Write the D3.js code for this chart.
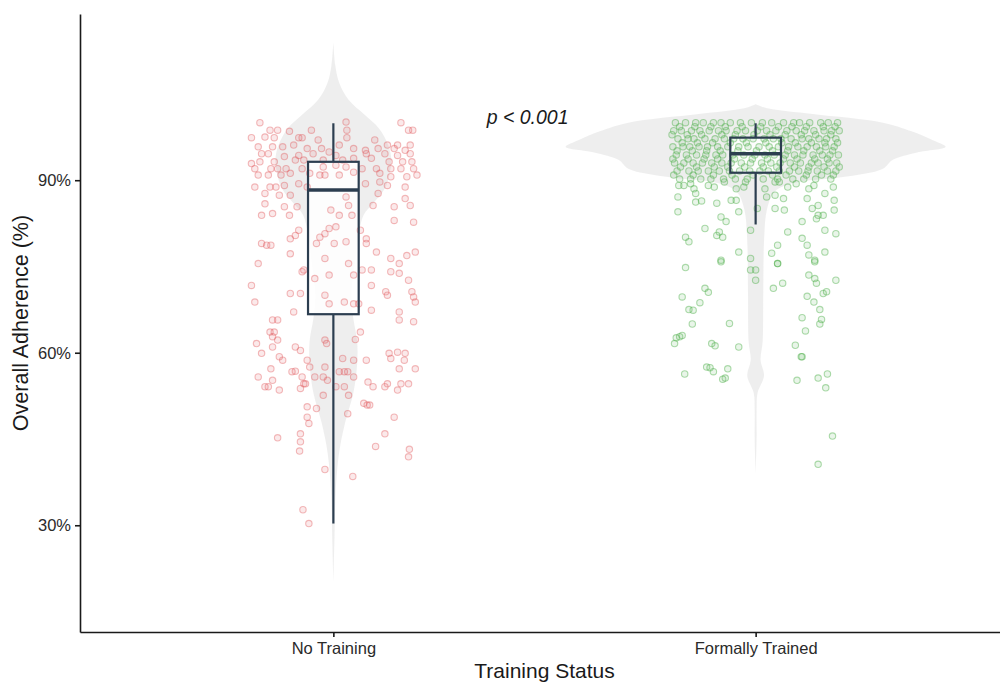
<!DOCTYPE html>
<meta charset="utf-8">
<style>
html, body {
    margin: 0;
    background: white;
}
svg {
    display: block;
    font-family: "Liberation Sans", Arial, sans-serif;
}
.axis path, .axis line {
    stroke: #1a1a1a;
    stroke-width: 1.6;
}
.axis text {
    font-size: 16.5px;
    fill: #2a2a2a;
}
</style>
<body>
<script src="https://d3js.org/d3.v7.min.js"></script>
<script>

var categories = ["No Training", "Formally Trained"];
var yTicks = [30, 60, 90];
var groupColors = ["#E0575A", "#4DAF4A"];

// box stats: [low whisker, q1, median, q3, high whisker]
var boxNoTraining = [30.3, 66.7, 88.3, 93.2, 99.9];
var boxTrained = [82.3, 91.3, 94.6, 97.4, 99.9];

// violin outline: [adherence %, relative density]
var violinNoTraining = [
  [114, 0], [110, 0.01], [107, 0.03], [104, 0.08], [101.5, 0.16], [99, 0.24],
  [96, 0.29], [93.5, 0.305], [91, 0.295], [88.5, 0.27], [86, 0.21], [84, 0.16],
  [80, 0.13], [76, 0.115], [70, 0.095], [66, 0.105], [62, 0.125], [58, 0.125],
  [53, 0.105], [48, 0.063], [44, 0.037], [40, 0.021], [35, 0.011], [28, 0.006], [20, 0]
];
var violinTrained = [
  [103.2, 0], [102.5, 0.06], [101.5, 0.3], [100, 0.67], [98.5, 0.82], [97, 0.93],
  [95.8, 1.0], [94.8, 0.85], [93.5, 0.72], [92, 0.67], [90.5, 0.45], [89.5, 0.2],
  [88, 0.1], [85, 0.06], [80, 0.045], [70, 0.04], [62, 0.037], [58.7, 0.026],
  [56, 0.044], [53, 0.01], [50, 0.005], [45, 0.005], [39, 0]
];

// jittered points: [jitter (-1..1 of jitter width), adherence %]
var pointsNoTraining = [
  [-0.87,100.0],[0.15,100.1],[0.80,100.0],[0.89,98.7],[0.94,98.7],[-0.75,98.7],[-0.66,98.7],[-0.52,98.5],[-0.26,98.7],[0.16,98.7],
  [-0.97,97.4],[-0.81,97.5],[-0.70,97.4],[-0.41,97.4],[-0.37,97.4],[-0.18,97.0],[0.16,97.4],[0.49,97.0],[0.64,96.1],[0.76,96.1],[0.91,96.1],
  [-0.89,95.8],[-0.72,95.8],[-0.60,95.8],[-0.47,96.1],[-0.31,95.5],[-0.14,95.5],[0.07,96.1],[0.24,95.5],[0.38,95.2],[0.53,95.5],[0.72,95.5],[0.85,95.2],
  [-0.85,94.6],[-0.77,94.6],[-0.58,94.1],[-0.41,94.3],[-0.24,94.6],[-0.05,94.9],[0.03,94.3],[0.39,94.6],[0.61,94.6],[0.76,94.3],[0.91,94.6],
  [-0.97,92.9],[-0.87,93.2],[-0.70,93.2],[-0.45,93.5],[-0.35,93.5],[-0.12,93.5],[0.11,93.5],[0.24,93.8],[0.45,93.8],[0.66,93.2],[0.82,93.2],[0.93,93.2],
  [-0.93,92.0],[-0.74,92.0],[-0.66,92.0],[-0.56,92.0],[-0.37,92.0],[-0.12,92.3],[0.03,92.6],[0.15,92.3],[0.34,92.0],[0.51,92.0],[0.68,92.0],[0.80,92.0],[0.95,92.0],
  [-0.89,90.9],[-0.77,90.9],[-0.62,90.9],[-0.51,91.2],[-0.28,91.2],[-0.16,90.9],[-0.10,90.9],[0.07,90.9],[0.24,91.4],[0.55,91.2],[0.68,90.6],[0.87,90.6],[0.99,90.9],
  [-0.93,88.8],[-0.75,88.8],[-0.68,88.8],[-0.58,89.1],[-0.41,89.4],[-0.31,88.8],[0.38,89.4],[0.55,89.7],[0.64,89.1],[0.85,88.8],
  [-0.81,87.7],[-0.64,87.4],[-0.51,87.4],[0.15,87.1],[0.53,87.7],[0.85,86.8],
  [-0.81,85.9],[-0.58,85.4],[-0.43,85.4],[-0.03,84.8],[0.18,85.6],[0.47,85.6],[0.72,85.4],[0.91,85.6],
  [-0.85,83.9],[-0.72,84.2],[-0.52,83.9],[0.07,83.9],[0.22,83.9],[0.72,83.0],[0.95,82.7],
  [-0.51,79.8],[-0.45,80.4],[-0.41,81.3],[-0.16,80.1],[-0.10,80.7],[-0.05,81.6],[0.03,81.9],[0.32,81.3],
  [-0.85,79.0],[-0.79,78.7],[-0.74,78.7],[-0.20,79.0],[0.01,79.0],[0.15,79.3],[0.39,79.8],[0.39,79.0],
  [-0.51,77.2],[0.51,77.5],[0.97,77.5],[0.87,76.9],[-0.89,75.5],[-0.10,76.4],[0.68,76.4],[0.78,75.5],[0.18,75.5],
  [-0.37,74.1],[-0.35,74.4],[-0.05,73.5],[0.24,73.5],[0.34,74.4],[0.45,74.4],[0.68,74.1],[0.78,73.8],
  [-0.22,72.9],[0.89,72.6],[-0.97,71.7],[0.45,71.7],[-0.51,70.3],[-0.39,70.3],[-0.10,70.0],[0.62,70.6],[0.64,70.0],[0.93,70.6],[0.95,69.7],
  [-0.93,68.8],[-0.05,68.5],[0.13,68.8],[0.24,68.5],[0.30,68.5],[0.97,68.8],[-0.47,67.1],[0.45,67.4],[0.78,67.1],
  [-0.72,65.7],[-0.66,65.7],[0.78,65.7],[0.95,65.4],[-0.75,63.6],[-0.70,63.6],[0.32,63.6],
  [-0.91,61.6],[-0.72,62.8],[-0.66,62.2],[-0.72,61.0],[-0.10,62.2],[-0.08,61.6],[0.26,62.3],
  [-0.85,59.9],[-0.45,61.0],[-0.39,60.4],[-0.64,59.3],[-0.60,58.7],[-0.31,58.7],[0.11,59.0],[0.24,58.7],[0.39,58.7],
  [0.66,59.9],[0.76,60.1],[0.85,59.9],[0.68,59.0],[0.84,58.7],
  [-0.74,57.2],[-0.28,57.5],[-0.10,57.5],[-0.49,56.7],[-0.45,56.8],[0.07,56.7],[0.13,56.7],[0.17,56.7],[0.78,57.2],[0.97,57.2],
  [-0.89,55.8],[-0.72,55.2],[-0.37,55.8],[-0.22,55.8],[-0.12,55.8],[-0.07,55.2],[0.24,55.8],
  [-0.35,54.6],[-0.33,54.6],[0.41,54.9],[0.47,54.1],[0.64,54.6],[0.61,54.1],[0.80,54.6],[0.89,54.6],
  [-0.81,54.1],[-0.77,54.1],[-0.64,53.5],[-0.39,53.8],[0.03,54.1],[0.13,54.1],[0.76,53.5],
  [-0.12,52.6],[0.18,52.6],[0.36,51.2],[0.40,50.9],[0.43,50.9],[-0.31,50.6],[-0.20,50.3],[0.17,49.4],
  [-0.31,48.8],[-0.29,47.7],[0.72,48.8],[-0.39,45.9],[-0.66,45.2],[0.61,45.9],[-0.39,44.5],
  [-0.40,42.9],[0.50,43.7],[0.90,43.2],[0.89,41.9],[-0.10,39.7],[0.23,38.5],[-0.36,32.7],[-0.29,30.3]
];

// dense upper band of the trained group, row by row
var trainedRows = [
  {value: 100.0, jitter: [-0.95,-0.83,-0.71,-0.62,-0.50,-0.41,-0.30,-0.18,-0.05,0.08,0.19,0.33,0.45,0.52,0.64,0.77,0.86,0.97]},
  {value: 99.3, jitter: [-0.90,-0.72,-0.53,-0.36,-0.16,0.06,0.27,0.43,0.60,0.80,0.94]},
  {value: 98.6, jitter: [-0.97,-0.88,-0.76,-0.66,-0.55,-0.44,-0.35,-0.22,-0.12,0.02,0.13,0.24,0.37,0.48,0.58,0.69,0.81,0.90,0.99]},
  {value: 97.9, jitter: [-0.99,-0.81,-0.64,-0.40,-0.24,-0.02,0.17,0.35,0.54,0.71,0.89]},
  {value: 97.2, jitter: [-0.92,-0.80,-0.73,-0.60,-0.48,-0.37,-0.26,-0.15,-0.03,0.10,0.21,0.30,0.42,0.55,0.63,0.75,0.84,0.95]},
  {value: 96.5, jitter: [-0.87,-0.69,-0.51,-0.30,-0.11,0.12,0.31,0.47,0.66,0.82,0.97]},
  {value: 95.8, jitter: [-0.98,-0.86,-0.78,-0.67,-0.57,-0.45,-0.33,-0.20,-0.09,0.04,0.16,0.27,0.39,0.50,0.61,0.72,0.83,0.93]},
  {value: 95.1, jitter: [-0.93,-0.75,-0.58,-0.42,-0.21,0.01,0.20,0.38,0.57,0.76,0.91]},
  {value: 94.4, jitter: [-0.94,-0.82,-0.70,-0.59,-0.47,-0.39,-0.27,-0.14,-0.01,0.11,0.22,0.35,0.46,0.56,0.68,0.79,0.88,0.98]},
  {value: 93.7, jitter: [-0.98,-0.80,-0.61,-0.45,-0.25,-0.04,0.14,0.33,0.49,0.70,0.85]},
  {value: 93.0, jitter: [-0.96,-0.85,-0.74,-0.63,-0.52,-0.40,-0.29,-0.17,-0.06,0.07,0.18,0.29,0.41,0.53,0.66,0.74,0.87,0.96]},
  {value: 92.3, jitter: [-0.89,-0.70,-0.49,-0.33,-0.13,0.09,0.25,0.46,0.63,0.81,0.99]},
  {value: 91.6, jitter: [-0.93,-0.79,-0.68,-0.56,-0.43,-0.31,-0.19,-0.07,0.05,0.15,0.28,0.40,0.51,0.62,0.73,0.85,0.95]},
  {value: 90.9, jitter: [-0.97,-0.74,-0.50,-0.28,-0.03,0.20,0.36,0.60,0.78,0.92]},
  {value: 90.2, jitter: [-0.90,-0.77,-0.65,-0.53,-0.38,-0.24,-0.10,0.09,0.26,0.44,0.57,0.71,0.89]}
];

// sparser lower part of the trained group
var pointsTrainedLow = [
  [-0.91,89.1],[-0.85,89.1],[-0.77,89.4],[-0.73,88.5],[-0.56,89.1],[-0.49,88.8],[-0.37,89.7],[-0.23,88.5],[-0.14,88.8],[-0.12,89.7],
  [0.11,88.5],[0.23,89.7],[0.28,89.7],[0.38,88.8],[0.48,89.4],[0.63,88.5],[0.69,89.1],[0.92,88.8],
  [-0.92,87.1],[-0.71,87.7],[-0.71,86.2],[-0.64,86.4],[-0.46,86.0],[-0.29,86.5],[-0.23,86.5],[0.02,85.1],[0.13,87.1],[0.23,87.4],
  [0.33,86.8],[0.61,86.8],[0.67,85.1],[0.74,85.6],[0.82,87.7],[0.93,86.5],[0.93,84.8],
  [-0.92,84.5],[-0.41,83.6],[-0.35,82.8],[-0.20,84.5],[0.23,85.1],[0.34,84.8],[0.74,83.9],[0.80,83.9],[0.72,83.3],[0.55,82.8],
  [-0.60,81.6],[-0.43,81.0],[-0.39,80.1],[-0.46,80.4],[-0.06,81.3],[0.38,81.0],[0.82,81.3],[0.95,80.7],
  [-0.83,80.1],[-0.79,79.3],[-0.20,77.5],[0.26,78.7],[0.55,79.9],[0.61,78.7],[0.82,77.5],[0.19,77.3],[0.63,77.0],
  [-0.06,76.4],[-0.41,76.1],[0.26,75.5],[0.70,76.1],
  [-0.83,74.8],[-0.41,75.8],[-0.06,74.4],[0.00,74.4],[0.00,72.6],[0.26,75.5],[0.70,75.8],[0.63,73.5],[0.70,72.9],[0.72,72.1],[0.95,72.6],
  [-0.60,71.2],[-0.56,70.5],[0.21,71.2],[0.32,72.1],[-0.87,69.7],[-0.66,68.7],[0.61,69.8],[0.80,70.3],[0.84,70.6],[0.69,68.8],
  [-0.79,67.5],[-0.74,67.4],[0.76,67.5],[0.55,66.1],[0.78,65.8],[-0.75,65.0],[-0.31,65.1],[0.76,65.0],[0.59,63.8],
  [-0.94,62.6],[-0.90,62.8],[-0.87,63.0],[-0.96,61.6],[-0.52,61.6],[-0.48,61.2],[-0.20,61.0],[0.47,61.3],[0.55,59.3],
  [0.54,59.3],[-0.84,56.3],[-0.58,57.5],[-0.54,57.4],[-0.50,56.7],[-0.33,57.2],[-0.39,55.4],[-0.36,55.6],
  [0.49,55.2],[0.74,55.6],[0.85,56.3],[0.83,53.9],[0.91,45.5],[0.74,40.6]
];

var pLabel = "p < 0.001";
var pLabelPos = [0.46, 99.8]; // [offset from first category in steps, adherence %]

var width = 1000,
    height = 684;

var svg = d3.select("body").append("svg")
    .attr("width", width)
    .attr("height", height);

var x = d3.scalePoint()
    .domain(categories)
    .range([80, 1009])
    .padding(0.6);
var step = x.step();

var y = d3.scaleLinear()
    .domain([11.44, 118.9])
    .range([632, 14]);

var jitterWidth = 0.2 * step;
var boxWidth = 0.12 * step;
var violinW = d3.scaleLinear().domain([0, 1]).range([0, 0.45 * step]);

var trainedPoints = [];
trainedRows.forEach(function(r) {
    r.jitter.forEach(function(j) { trainedPoints.push([j, r.value]); });
});
pointsTrainedLow.forEach(function(p) { trainedPoints.push(p); });

var groups = [
    {name: categories[0], violin: violinNoTraining, box: boxNoTraining, points: pointsNoTraining, color: groupColors[0], so: 0.4, fo: 0.13},
    {name: categories[1], violin: violinTrained, box: boxTrained, points: trainedPoints, color: groupColors[1], so: 0.45, fo: 0.12}
];

var plot = svg.append("g");

// violins
groups.forEach(function(g) {
    var cx = x(g.name);
    var area = d3.area()
        .curve(d3.curveCatmullRom)
        .y(function(d) { return y(d[0]); })
        .x0(function(d) { return cx - violinW(d[1]); })
        .x1(function(d) { return cx + violinW(d[1]); });
    plot.append("path")
        .datum(g.violin)
        .attr("d", area)
        .attr("fill", "#d6d6d6")
        .attr("fill-opacity", 0.42);
});

// box fill under the points
groups.forEach(function(g) {
    var cx = x(g.name);
    plot.append("rect")
        .attr("x", cx - boxWidth / 2)
        .attr("width", boxWidth)
        .attr("y", y(g.box[3]))
        .attr("height", y(g.box[1]) - y(g.box[3]))
        .attr("fill", "white")
        .attr("fill-opacity", 0.85);
});

// jittered points
groups.forEach(function(g) {
    var cx = x(g.name);
    plot.append("g")
      .selectAll("circle")
      .data(g.points)
      .enter().append("circle")
        .attr("cx", function(d) { return cx + d[0] * jitterWidth; })
        .attr("cy", function(d) { return y(d[1]); })
        .attr("r", 3.2)
        .attr("fill", g.color)
        .attr("fill-opacity", g.fo)
        .attr("stroke", g.color)
        .attr("stroke-opacity", g.so)
        .attr("stroke-width", 1.1);
});

// box outlines, whiskers, medians
var boxColor = "#2c3e50";
groups.forEach(function(g) {
    var cx = x(g.name);
    var b = g.box;
    var gb = plot.append("g")
        .attr("stroke", boxColor)
        .attr("fill", "none");
    gb.append("line")
        .attr("x1", cx).attr("x2", cx)
        .attr("y1", y(b[3])).attr("y2", y(b[4]))
        .attr("stroke-width", 2.2);
    gb.append("line")
        .attr("x1", cx).attr("x2", cx)
        .attr("y1", y(b[1])).attr("y2", y(b[0]))
        .attr("stroke-width", 2.2);
    gb.append("rect")
        .attr("x", cx - boxWidth / 2)
        .attr("width", boxWidth)
        .attr("y", y(b[3]))
        .attr("height", y(b[1]) - y(b[3]))
        .attr("stroke-width", 2.2);
    gb.append("line")
        .attr("x1", cx - boxWidth / 2).attr("x2", cx + boxWidth / 2)
        .attr("y1", y(b[2])).attr("y2", y(b[2]))
        .attr("stroke-width", 3.6);
});

// p-value annotation
svg.append("text")
    .attr("x", x(categories[0]) + pLabelPos[0] * step)
    .attr("y", y(pLabelPos[1]))
    .attr("text-anchor", "middle")
    .attr("font-style", "italic")
    .attr("font-size", "19.5px")
    .attr("fill", "#1a1a1a")
    .text(pLabel);

// axes
svg.append("g")
    .attr("class", "axis")
    .attr("transform", "translate(80,0)")
    .call(d3.axisLeft(y)
        .tickValues(yTicks)
        .tickFormat(function(d) { return d + "%"; })
        .tickSize(5)
        .tickSizeOuter(0)
        .tickPadding(4));

svg.append("g")
    .attr("class", "axis")
    .attr("transform", "translate(0,632)")
    .call(d3.axisBottom(x)
        .tickSize(5)
        .tickSizeOuter(0)
        .tickPadding(5));

svg.append("text")
    .attr("x", (80 + 1009) / 2)
    .attr("y", 678)
    .attr("text-anchor", "middle")
    .attr("font-size", "21px")
    .attr("fill", "#1a1a1a")
    .text("Training Status");

svg.append("text")
    .attr("transform", "translate(28," + (14 + 632) / 2 + ") rotate(-90)")
    .attr("text-anchor", "middle")
    .attr("font-size", "21.5px")
    .attr("fill", "#1a1a1a")
    .text("Overall Adherence (%)");

</script>
